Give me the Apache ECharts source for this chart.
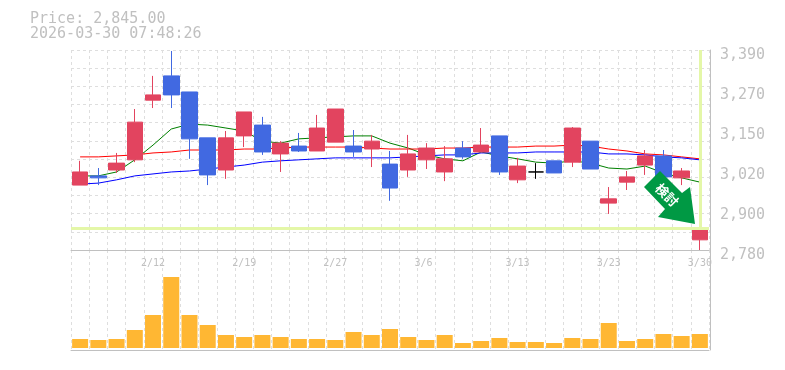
<!DOCTYPE html>
<html><head><meta charset="utf-8">
<style>html,body{margin:0;padding:0;background:#fff}#c{width:785px;height:370px}</style>
<script src="https://cdn.jsdelivr.net/npm/echarts@6/dist/echarts.min.js"></script>
</head><body><div id="c"></div>
<script>
const dates = ['2/5','2/6','2/9','2/10','2/12','2/13','2/16','2/17','2/18','2/19','2/20','2/24','2/25','2/26','2/27','3/2','3/3','3/4','3/5','3/6','3/9','3/10','3/11','3/12','3/13','3/16','3/17','3/18','3/19','3/23','3/24','3/25','3/26','3/27','3/30'];
// open, close, low, high
const candles = [
[2978,3018,2978,3052],[3006,3000,2978,3030],[3024,3045,3015,3076],[3055,3170,3048,3210],[3237,3253,3213,3311],
[3311,3253,3213,3387],[3262,3119,3058,3262],[3122,3009,2978,3122],[3024,3122,2997,3143],[3128,3201,3094,3201],
[3161,3079,3070,3186],[3073,3106,3018,3112],[3097,3082,3079,3137],[3082,3152,3082,3192],[3109,3210,3109,3210],
[3097,3079,3064,3146],[3088,3112,3033,3131],[3042,2969,2930,3082],[3024,3073,3003,3131],[3055,3091,3027,3106],
[3018,3058,2990,3097],[3091,3064,3058,3112],[3079,3100,3079,3152],[3128,3018,3009,3128],[2994,3036,2984,3061],
[3018,3018,2997,3045],[3052,3015,3015,3052],[3048,3152,3033,3155],[3112,3027,3027,3112],[2923,2936,2890,2972],
[2987,3003,2963,3021],[3039,3067,3009,3085],[3067,3003,3003,3085],[3000,3021,2978,3030],[2811,2845,2780,2872]];
const maShort = [3006,3006,3018,3055,3100,3149,3164,3161,3152,3143,3112,3106,3119,3122,3125,3128,3128,3106,3091,3070,3058,3052,3079,3067,3058,3048,3045,3052,3045,3030,3027,3036,3015,3000,2987];
const maMid = [3064,3064,3067,3070,3076,3079,3085,3085,3085,3088,3088,3091,3094,3094,3094,3094,3091,3088,3088,3088,3091,3091,3094,3094,3094,3097,3097,3100,3097,3088,3082,3073,3070,3064,3058];
const maLong = [2981,2984,2994,3006,3012,3018,3021,3027,3033,3039,3048,3052,3055,3058,3061,3061,3061,3061,3064,3067,3070,3070,3076,3076,3076,3079,3079,3079,3079,3073,3073,3070,3064,3061,3055];
const volume = [90,80,90,180,330,710,330,230,130,110,130,110,90,90,80,160,130,190,110,80,130,50,70,100,60,60,50,100,90,250,70,90,140,120,140];
const priceTicks = [2780,2900,3020,3150,3270,3390];
const lastPrice = 2845;
const headline = 'Price: 2,845.00';
const stamp = '2026-03-30 07:48:26';
const arrowLabel = '検討';

const GRAY='#c0c0c0', FONT='"DejaVu Sans Mono", monospace';
const dash={show:true,lineStyle:{color:'#dedede',width:1,type:[3,3]}};
const line=(data,color,extra)=>Object.assign({type:'line',data,xAxisIndex:0,yAxisIndex:0,symbol:'none',z:2,silent:true,
  lineStyle:{color,width:1},itemStyle:{color}},extra||{});
const chart=echarts.init(document.getElementById('c'),null,{renderer:'canvas'});
chart.setOption({
  animation:false,backgroundColor:'#fff',
  grid:[{left:71,width:638,top:50,height:200},{left:71,width:638,top:250,height:100}],
  title:{left:30,top:12,padding:0,text:headline+'\n'+stamp,textStyle:{color:GRAY,fontFamily:FONT,fontWeight:'normal',fontSize:15,lineHeight:15}},
  xAxis:[
   {type:'category',gridIndex:0,data:dates,boundaryGap:true,axisTick:{show:false},
    axisLine:{onZero:false,lineStyle:{color:GRAY,width:1}},splitLine:Object.assign({interval:0},dash),
    axisLabel:{color:GRAY,fontFamily:FONT,fontSize:10,margin:8,interval:i=>i%5===4,hideOverlap:false,
      formatter:v=>v.padEnd(4,' ')}},
   {type:'category',gridIndex:1,data:dates,boundaryGap:true,axisTick:{show:false},axisLabel:{show:false},
    axisLine:{onZero:false,lineStyle:{color:GRAY,width:1}},splitLine:Object.assign({interval:0},dash)}
  ],
  yAxis:[
   {type:'value',gridIndex:0,min:2780,max:3390,show:false,splitLine:{show:false}},
   {type:'value',gridIndex:0,min:0,max:11,interval:1,axisLine:{show:false},axisTick:{show:false},axisLabel:{show:false},splitLine:dash},
   {type:'value',gridIndex:0,min:0,max:5,interval:1,position:'right',offset:1,splitLine:{show:false},axisTick:{show:false},
    axisLine:{show:true,onZero:false,lineStyle:{color:GRAY,width:1}},
    axisLabel:{color:GRAY,fontFamily:FONT,fontSize:15,margin:10,verticalAlign:'top',lineHeight:10,
      formatter:v=>String(priceTicks[v]).replace(/(\d)(\d{3})$/,'$1,$2')}},
   {type:'value',gridIndex:1,min:-20,max:980,position:'right',offset:1,splitLine:{show:false},axisTick:{show:false},axisLabel:{show:false},
    axisLine:{show:true,onZero:false,lineStyle:{color:GRAY,width:1}}}
  ],
  series:[
   line(maShort,'#008000',{markLine:{silent:true,symbol:'none',animation:false,label:{show:false},
     lineStyle:{color:'#e4f7a8',width:3,type:'solid'},
     data:[{yAxis:lastPrice},[{xAxis:'3/30',yAxis:3390},{xAxis:'3/30',yAxis:lastPrice}]]}}),
   line(maMid,'#ff0000'),
   line(maLong,'#0000ff'),
   {type:'candlestick',xAxisIndex:0,yAxisIndex:0,data:candles,barWidth:16,z:3,silent:true,
    itemStyle:{color:'#e2445f',color0:'#4169e1',borderColor:'#e2445f',borderColor0:'#4169e1',borderColorDoji:'#000',borderWidth:1}},
   {type:'bar',xAxisIndex:1,yAxisIndex:3,data:volume,barWidth:16,silent:true,itemStyle:{color:'#ffb733'}}
  ],
  graphic:[
   {type:'polygon',z:100,shape:{points:[[644,187],[660,171],[682,193],[690,187],[695,224],[658,217],[665,209]]},style:{fill:'#009944'}},
   {type:'text',z:101,x:667,y:195,rotation:-Math.PI/4,style:{text:arrowLabel,fill:'#fff',align:'center',verticalAlign:'middle',font:'bold 13px "Noto Sans CJK JP"'}}
  ]
});
</script></body></html>
